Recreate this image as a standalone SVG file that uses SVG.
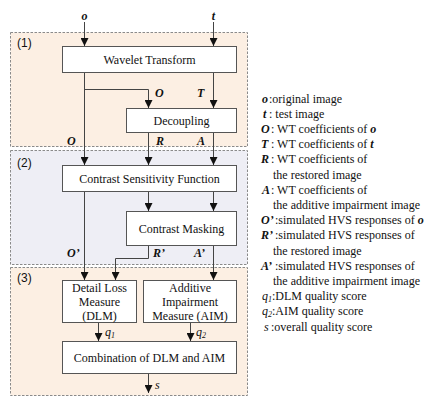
<svg xmlns="http://www.w3.org/2000/svg" width="433" height="401" viewBox="0 0 433 401">
<style>
.panelA{fill:#fcefe3;stroke:#8a8a8a;stroke-width:1;stroke-dasharray:2.5,1.5}
.panelB{fill:#eeeef5;stroke:#8a8a8a;stroke-width:1;stroke-dasharray:2.5,1.5}
.box{fill:#ffffff;stroke:#555555;stroke-width:1}
.t{font-family:"Liberation Serif","Times New Roman",serif;font-size:12px;fill:#111}
.c{text-anchor:middle}
.bi{font-family:"Liberation Serif","Times New Roman",serif;font-size:12px;font-weight:bold;font-style:italic;fill:#111}
.it{font-family:"Liberation Serif","Times New Roman",serif;font-size:12px;font-style:italic;fill:#111}
.pn{font-family:"Liberation Sans",Arial,sans-serif;font-size:12px;fill:#111}
.ln{fill:none;stroke:#444;stroke-width:1}
</style>
<defs>
<marker id="ah" markerWidth="8" markerHeight="8" refX="8" refY="4" orient="auto" markerUnits="userSpaceOnUse">
<path d="M0,0 L8,4 L0,8 z" fill="#111"/>
</marker>
</defs>
<g id="panels">
<rect class="panelA" x="10.5" y="32.5" width="237" height="114"/>
<rect class="panelB" x="10.5" y="150.5" width="237" height="114"/>
<rect class="panelA" x="10.5" y="267.5" width="237" height="128"/>
<text class="pn" x="17" y="47">(1)</text>
<text class="pn" x="17" y="167">(2)</text>
<text class="pn" x="17" y="282">(3)</text>
</g>
<g id="connectors">
<path class="ln" d="M84.5,22 V46" marker-end="url(#ah)"/>
<path class="ln" d="M213.5,22 V46" marker-end="url(#ah)"/>
<path class="ln" d="M84.5,73 V165" marker-end="url(#ah)"/>
<path class="ln" d="M84.5,89.5 H148.5 V108" marker-end="url(#ah)"/>
<path class="ln" d="M213.5,73 V108" marker-end="url(#ah)"/>
<path class="ln" d="M148.5,133 V165" marker-end="url(#ah)"/>
<path class="ln" d="M213.5,133 V165" marker-end="url(#ah)"/>
<path class="ln" d="M148.5,192 V211" marker-end="url(#ah)"/>
<path class="ln" d="M213.5,192 V211" marker-end="url(#ah)"/>
<path class="ln" d="M84.5,192 V280" marker-end="url(#ah)"/>
<path class="ln" d="M148.5,246 V258.5 H115.5 V280" marker-end="url(#ah)"/>
<path class="ln" d="M213.5,246 V280" marker-end="url(#ah)"/>
<path class="ln" d="M98.5,323 V341" marker-end="url(#ah)"/>
<path class="ln" d="M190.5,323 V341" marker-end="url(#ah)"/>
<path class="ln" d="M148.5,374 V393" marker-end="url(#ah)"/>
<text class="bi c" x="84.5" y="20">o</text>
<text class="bi c" x="213.5" y="20">t</text>
<text class="bi" x="155" y="97">O</text>
<text class="bi" x="197" y="97">T</text>
<text class="bi" x="67" y="145">O</text>
<text class="bi" x="156" y="145">R</text>
<text class="bi" x="197" y="145">A</text>
<text class="bi" x="67" y="257">O’</text>
<text class="bi" x="153" y="257">R’</text>
<text class="bi" x="194" y="257">A’</text>
<text class="it" x="105" y="336">q<tspan font-size="8" dy="1.5">1</tspan></text>
<text class="it" x="196" y="336">q<tspan font-size="8" dy="1.5">2</tspan></text>
<text class="it" x="155" y="389">s</text>
</g>
<g id="wavelet">
<rect class="box" x="62.5" y="46.5" width="174" height="26"/>
<text class="t c" x="149.5" y="64">Wavelet Transform</text>
</g>
<g id="decoupling">
<rect class="box" x="126.5" y="108.5" width="110" height="24"/>
<text class="t c" x="181.5" y="125">Decoupling</text>
</g>
<g id="csf">
<rect class="box" x="62.5" y="165.5" width="174" height="26"/>
<text class="t c" x="149.5" y="183">Contrast Sensitivity Function</text>
</g>
<g id="masking">
<rect class="box" x="126.5" y="211.5" width="110" height="34"/>
<text class="t c" x="181.5" y="233">Contrast Masking</text>
</g>
<g id="dlm">
<rect class="box" x="62.5" y="280.5" width="74" height="42"/>
<text class="t c" x="99.5" y="292">Detail Loss</text>
<text class="t c" x="99.5" y="306">Measure</text>
<text class="t c" x="99.5" y="320">(DLM)</text>
</g>
<g id="aim">
<rect class="box" x="143.5" y="280.5" width="93" height="42"/>
<text class="t c" x="190" y="292">Additive</text>
<text class="t c" x="190" y="306">Impairment</text>
<text class="t c" x="190" y="320">Measure (AIM)</text>
</g>
<g id="combination">
<rect class="box" x="62.5" y="341.5" width="174" height="32"/>
<text class="t c" x="149.5" y="362">Combination of DLM and AIM</text>
</g>
<g id="legend">
<text class="bi" x="262" y="102.5">o</text><text class="t" x="269" y="102.5">:original image</text>
<text class="bi" x="263" y="117.7">t</text><text class="t" x="269" y="117.7">: test image</text>
<text class="bi" x="261" y="132.9">O</text><text class="t" x="271" y="132.9">: WT coefficients of <tspan class="bi">o</tspan></text>
<text class="bi" x="261" y="148.1">T</text><text class="t" x="271" y="148.1">: WT coefficients of <tspan class="bi">t</tspan></text>
<text class="bi" x="261" y="163.3">R</text><text class="t" x="271" y="163.3">: WT coefficients of</text>
<text class="t" x="273" y="178.5">the restored image</text>
<text class="bi" x="262" y="193.7">A</text><text class="t" x="271" y="193.7">: WT coefficients of</text>
<text class="t" x="273" y="208.9">the additive impairment image</text>
<text class="bi" x="261" y="224.1">O’</text><text class="t" x="275" y="224.1">:simulated HVS responses of <tspan class="bi">o</tspan></text>
<text class="bi" x="261" y="239.3">R’</text><text class="t" x="275" y="239.3">:simulated HVS responses of</text>
<text class="t" x="273" y="254.5">the restored image</text>
<text class="bi" x="261" y="269.7">A’</text><text class="t" x="275" y="269.7">:simulated HVS responses of</text>
<text class="t" x="273" y="284.9">the additive impairment image</text>
<text class="it" x="262" y="300.1">q<tspan font-size="8" dy="1.5">1</tspan></text><text class="t" x="272" y="300.1">:DLM quality score</text>
<text class="it" x="262" y="315.3">q<tspan font-size="8" dy="1.5">2</tspan></text><text class="t" x="272" y="315.3">:AIM quality score</text>
<text class="it" x="264" y="330.5">s</text><text class="t" x="271" y="330.5">:overall quality score</text>
</g>
</svg>
